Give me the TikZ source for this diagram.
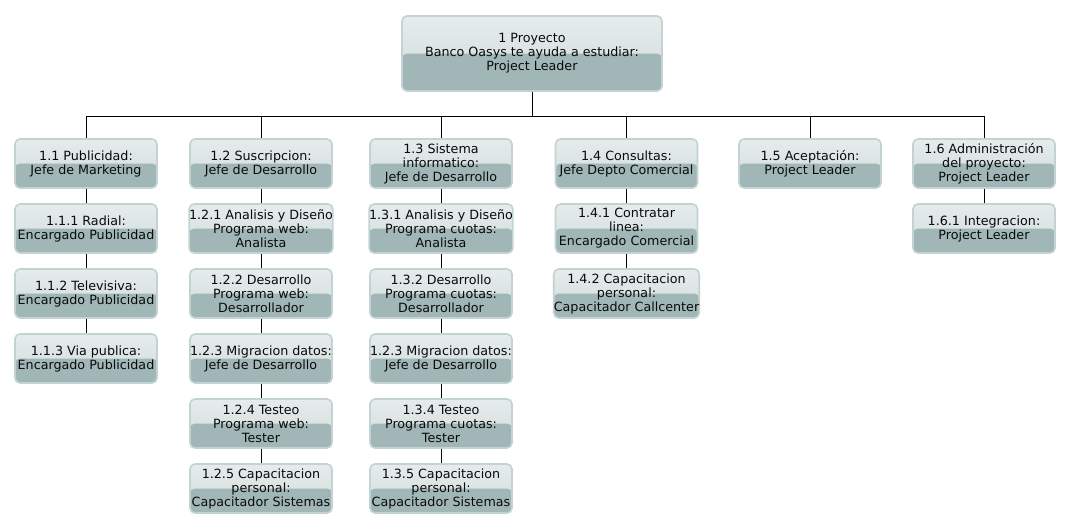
\documentclass[tikz,border=0pt]{standalone}
\usepackage{fontspec}
\setmainfont{DejaVu Sans}
\definecolor{boxtop}{HTML}{E6ECEC}
\definecolor{boxmid}{HTML}{CFDADA}
\definecolor{boxbot}{HTML}{A1B7B7}
\definecolor{boxline}{HTML}{C3D2D2}
\definecolor{txt}{HTML}{0A0A0A}
\tikzset{
  wbs/.style={rectangle, rounded corners=5pt, minimum width=142pt, minimum height=49pt,
    inner sep=0pt, align=center, draw=boxline, line width=1.6pt,
    top color=boxtop, bottom color=boxmid, text=txt,
    font=\fontsize{12.7}{14}\selectfont,
    path picture={\fill[boxbot] (path picture bounding box.west) rectangle (path picture bounding box.south east);}},
  conn/.style={draw=black, line width=0.9pt}
}
\begin{document}
\begin{tikzpicture}[x=1pt,y=-1pt]
\useasboundingbox (0,0) rectangle (1071,530);
\node[wbs, minimum width=260pt, minimum height=75pt] (p) at (532,53.5) {1 Proyecto\\Banco Oasys te ayuda a estudiar:\\Project Leader};
% level 1
\node[wbs] (a) at (86,163.5) {1.1 Publicidad:\\Jefe de Marketing};
\node[wbs] (b) at (261,163.5) {1.2 Suscripcion:\\Jefe de Desarrollo};
\node[wbs] (c) at (441,163.5) {1.3 Sistema\\informatico:\\Jefe de Desarrollo};
\node[wbs] (d) at (626.5,163.5) {1.4 Consultas:\\Jefe Depto Comercial};
\node[wbs] (e) at (810,163.5) {1.5 Aceptación:\\Project Leader};
\node[wbs] (f) at (984,163.5) {1.6 Administración\\del proyecto:\\Project Leader};
% column 1
\node[wbs] (a1) at (86,228.5) {1.1.1 Radial:\\Encargado Publicidad};
\node[wbs] (a2) at (86,293.5) {1.1.2 Televisiva:\\Encargado Publicidad};
\node[wbs] (a3) at (86,358.5) {1.1.3 Via publica:\\Encargado Publicidad};
% column 2
\node[wbs] (b1) at (261,228.5) {1.2.1 Analisis y Diseño\\Programa web:\\Analista};
\node[wbs] (b2) at (261,293.5) {1.2.2 Desarrollo\\Programa web:\\Desarrollador};
\node[wbs] (b3) at (261,358.5) {1.2.3 Migracion datos:\\Jefe de Desarrollo};
\node[wbs] (b4) at (261,423.5) {1.2.4 Testeo\\Programa web:\\Tester};
\node[wbs] (b5) at (261,488.5) {1.2.5 Capacitacion\\personal:\\Capacitador Sistemas};
% column 3
\node[wbs] (c1) at (441,228.5) {1.3.1 Analisis y Diseño\\Programa cuotas:\\Analista};
\node[wbs] (c2) at (441,293.5) {1.3.2 Desarrollo\\Programa cuotas:\\Desarrollador};
\node[wbs] (c3) at (441,358.5) {1.2.3 Migracion datos:\\Jefe de Desarrollo};
\node[wbs] (c4) at (441,423.5) {1.3.4 Testeo\\Programa cuotas:\\Tester};
\node[wbs] (c5) at (441,488.5) {1.3.5 Capacitacion\\personal:\\Capacitador Sistemas};
% column 4
\node[wbs] (d1) at (626.5,228.5) {1.4.1 Contratar\\linea:\\Encargado Comercial};
\node[wbs] (d2) at (626.5,293.5) {1.4.2 Capacitacion\\personal:\\Capacitador Callcenter};
% column 6
\node[wbs] (f1) at (984,228.5) {1.6.1 Integracion:\\Project Leader};
% bus
\coordinate (bus) at (532,116);
\draw[conn] (p.south) -- (bus);
\foreach \n in {a,b,c,d,e,f}{
  \draw[conn] (\n.north) -- (\n.north |- bus);
}
\draw[conn] (a.north |- bus) -- (f.north |- bus);
% chains
\draw[conn] (a) -- (a1) (a1) -- (a2) (a2) -- (a3);
\draw[conn] (b) -- (b1) (b1) -- (b2) (b2) -- (b3) (b3) -- (b4) (b4) -- (b5);
\draw[conn] (c) -- (c1) (c1) -- (c2) (c2) -- (c3) (c3) -- (c4) (c4) -- (c5);
\draw[conn] (d) -- (d1) (d1) -- (d2);
\draw[conn] (f) -- (f1);
\end{tikzpicture}
\end{document}
